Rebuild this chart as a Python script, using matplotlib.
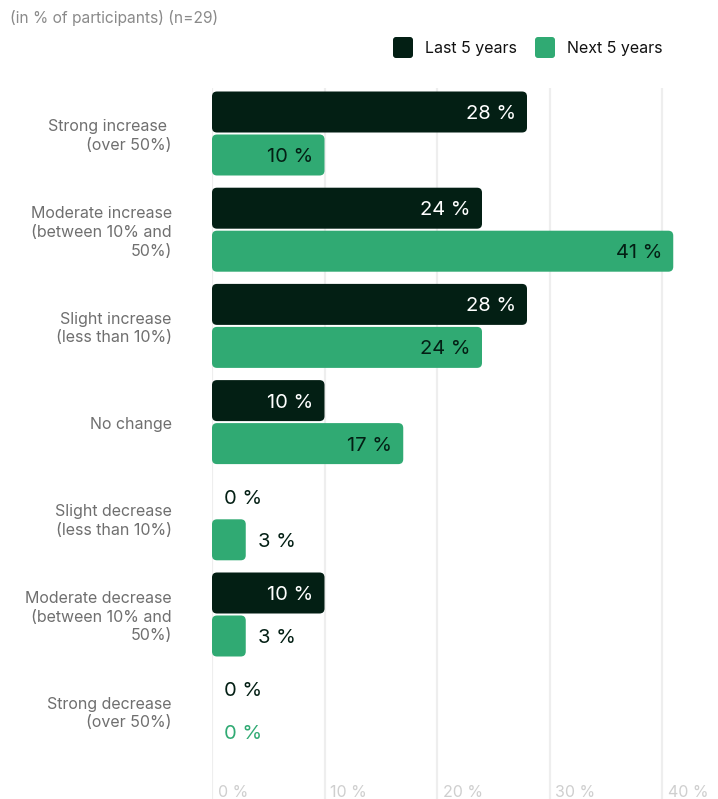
import matplotlib
matplotlib.use("Agg")
import matplotlib.pyplot as plt
from matplotlib.patches import FancyBboxPatch

plt.rcParams["font.family"] = ["Inter", "DejaVu Sans"]

# Survey data (in % of participants, n=29)
categories = [
    "Strong increase \n(over 50%)",
    "Moderate increase\n(between 10% and\n50%)",
    "Slight increase\n(less than 10%)",
    "No change",
    "Slight decrease\n(less than 10%)",
    "Moderate decrease\n(between 10% and\n50%)",
    "Strong decrease\n(over 50%)",
]
last_5_years = [28, 24, 28, 10, 0, 10, 0]
next_5_years = [10, 41, 24, 17, 3, 3, 0]
series_names = ["Last 5 years", "Next 5 years"]
x_ticks = [0, 10, 20, 30, 40]
x_tick_labels = ["0 %", "10 %", "20 %", "30 %", "40 %"]
title = "(in % of participants) (n=29)"

DARK = "#031f14"
GREEN = "#30aa73"
GRID = "#eeeeee"
LABEL_GRAY = "#6f6f6f"

W, H = 718, 799
fig = plt.figure(figsize=(W / 100, H / 100), dpi=100)

# main plotting area in pixel bounds
left_px, right_px, top_px, bottom_px = 212, 712, 88, 799
ax = fig.add_axes([left_px / W, 1 - bottom_px / H,
                   (right_px - left_px) / W, (bottom_px - top_px) / H])
px_per_unit_x = 11.25
px_per_group = 96.2
first_center_px = 133.5
ax.set_xlim(0, (right_px - left_px) / px_per_unit_x)
ax.set_ylim((bottom_px - first_center_px) / px_per_group,
            -(first_center_px - top_px) / px_per_group)
ax.axis("off")

for t, tl in zip(x_ticks, x_tick_labels):
    ax.axvline(t, color=GRID, lw=1.6, zorder=0)
    ax.annotate(tl, (t, 0), xycoords=("data", "axes fraction"),
                xytext=(4, 5), textcoords="offset points", ha="left", va="center",
                fontsize=11.5, color="#cfcfcf")

bar_h = 41 / px_per_group
offset = 21.5 / px_per_group
radius_px = 5
rx = radius_px / px_per_unit_x
ry = radius_px / px_per_group


def rounded_bar(x0, width, yc, color):
    if width <= 0:
        return
    p = FancyBboxPatch((x0, yc - bar_h / 2), width, bar_h,
                       boxstyle=f"round,pad=0,rounding_size={rx}",
                       mutation_aspect=ry / rx, fc=color, ec="none", zorder=2)
    ax.add_patch(p)


for i, cat in enumerate(categories):
    for j, (vals, color, txt_in, txt_out) in enumerate([
        (last_5_years, DARK, "white", DARK),
        (next_5_years, GREEN, DARK, DARK),
    ]):
        v = vals[i]
        yc = i - offset if j == 0 else i + offset
        rounded_bar(0, v, yc, color)
        label = f"{v} %"
        if v >= 8:
            ax.annotate(label, (v, yc), xytext=(-8, -1.5), textcoords="offset points",
                        ha="right", va="center", fontsize=14.5, color=txt_in, zorder=3)
        elif v > 0:
            ax.annotate(label, (v, yc), xytext=(9, -1.5), textcoords="offset points",
                        ha="left", va="center", fontsize=14.5, color=txt_out, zorder=3)
        else:
            zc = DARK if j == 0 else GREEN
            ax.annotate(label, (0, yc), xytext=(9, -1.5), textcoords="offset points",
                        ha="left", va="center", fontsize=14.5, color=zc, zorder=3)
    ax.annotate(cat, (0, i), xytext=(-29, -2), textcoords="offset points",
                ha="right", va="center", fontsize=11.5, color=LABEL_GRAY,
                linespacing=1.3, multialignment="right", annotation_clip=False)

# overlay in pixel coordinates for title and legend
ov = fig.add_axes([0, 0, 1, 1], zorder=5)
ov.set_xlim(0, W)
ov.set_ylim(H, 0)
ov.axis("off")
ov.patch.set_alpha(0)
ov.text(10, 18, title, ha="left", va="center", fontsize=11.2, color="#8a8a8a")

legend_items = [(393, DARK, series_names[0]), (535, GREEN, series_names[1])]
for x0, color, name in legend_items:
    ov.add_patch(FancyBboxPatch((x0, 37), 20, 21, boxstyle="round,pad=0,rounding_size=3",
                                fc=color, ec="none"))
    ov.text(x0 + 32, 48, name, ha="left", va="center", fontsize=11.5, color="#111111")

fig.savefig("out.png", dpi=100)
